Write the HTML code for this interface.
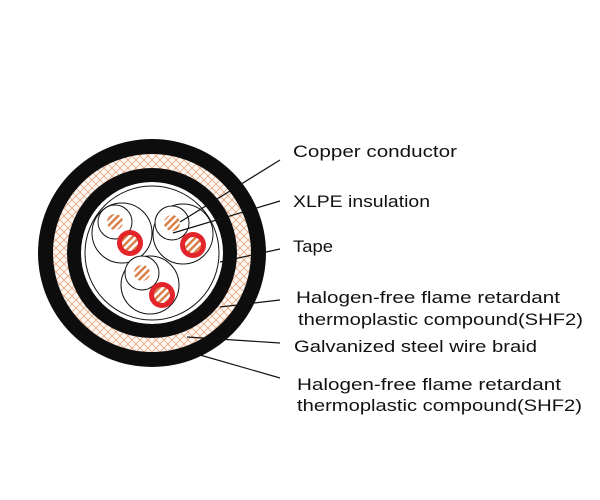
<!DOCTYPE html>
<html><head><meta charset="utf-8"><style>html,body{margin:0;padding:0;background:#fff}svg{display:block}</style></head>
<body>
<svg width="600" height="500" viewBox="0 0 600 500" xmlns="http://www.w3.org/2000/svg">
<defs>
<pattern id="br" width="8" height="8" patternUnits="userSpaceOnUse">
<rect width="8" height="8" fill="#fdf6f0"/>
<path d="M0 0L8 8M8 0L0 8" stroke="#de9a72" stroke-width="0.7"/>
</pattern>
<pattern id="cu" width="5" height="5" patternUnits="userSpaceOnUse" patternTransform="rotate(-45)">
<rect width="5" height="5" fill="#fff"/>
<rect width="5" height="2.5" fill="#d9804a"/>
</pattern>
</defs>
<circle cx="152" cy="253" r="114" fill="#0d0d0d"/>
<circle cx="152" cy="253" r="99" fill="url(#br)"/>
<circle cx="152" cy="253" r="85" fill="#0d0d0d"/>
<circle cx="152" cy="253" r="71" fill="#fff"/>
<circle cx="152" cy="253" r="67" fill="none" stroke="#111" stroke-width="1"/>
<g fill="none" stroke="#111" stroke-width="1">
<circle cx="122" cy="233" r="30"/>
<circle cx="183" cy="234" r="30"/>
<circle cx="150" cy="285" r="29"/>
</g>
<g>
<circle cx="115" cy="222" r="17" fill="#fff" stroke="#111"/>
<circle cx="115" cy="222" r="8" fill="url(#cu)"/>
<circle cx="130" cy="243" r="13" fill="#e3242b"/>
<circle cx="130" cy="243" r="8" fill="url(#cu)"/>
<circle cx="172" cy="223" r="17" fill="#fff" stroke="#111"/>
<circle cx="172" cy="223" r="8" fill="url(#cu)"/>
<circle cx="193" cy="245" r="13" fill="#e3242b"/>
<circle cx="193" cy="245" r="8" fill="url(#cu)"/>
<circle cx="142" cy="273" r="17" fill="#fff" stroke="#111"/>
<circle cx="142" cy="273" r="8" fill="url(#cu)"/>
<circle cx="162" cy="295" r="13" fill="#e3242b"/>
<circle cx="162" cy="295" r="8" fill="url(#cu)"/>
</g>
<g stroke="#111" stroke-width="1.2">
<line x1="280" y1="160" x2="180" y2="222"/>
<line x1="280" y1="201" x2="173" y2="233"/>
<line x1="280" y1="249" x2="220" y2="262"/>
<line x1="280" y1="300" x2="220" y2="307"/>
<line x1="280" y1="343" x2="187" y2="337"/>
<line x1="280" y1="378" x2="200" y2="355"/>
</g>
<g font-family="Liberation Sans, sans-serif" font-size="17" fill="#111">
<text x="293" y="157" textLength="164" lengthAdjust="spacingAndGlyphs">Copper conductor</text>
<text x="293" y="207" textLength="137" lengthAdjust="spacingAndGlyphs">XLPE insulation</text>
<text x="293" y="252" textLength="40" lengthAdjust="spacingAndGlyphs">Tape</text>
<text x="296" y="303" textLength="264" lengthAdjust="spacingAndGlyphs">Halogen-free flame retardant</text>
<text x="298" y="325" textLength="285" lengthAdjust="spacingAndGlyphs">thermoplastic compound(SHF2)</text>
<text x="294" y="352" textLength="243" lengthAdjust="spacingAndGlyphs">Galvanized steel wire braid</text>
<text x="297" y="390" textLength="264" lengthAdjust="spacingAndGlyphs">Halogen-free flame retardant</text>
<text x="297" y="411" textLength="285" lengthAdjust="spacingAndGlyphs">thermoplastic compound(SHF2)</text>
</g>
</svg>
</body></html>
